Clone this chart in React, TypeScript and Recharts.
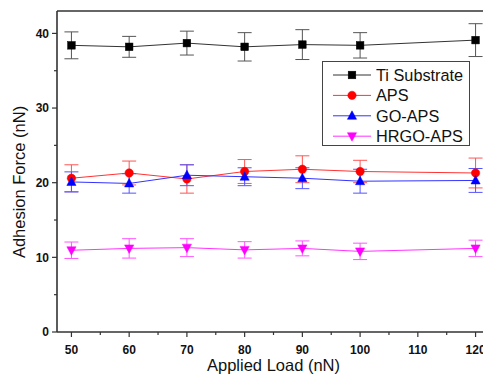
import React from 'react';
import { LineChart, Line, XAxis, YAxis, ErrorBar, ReferenceLine, Legend, Label } from 'recharts';

const loads = [50, 60, 70, 80, 90, 100, 120];
const tiValues = [38.4, 38.2, 38.7, 38.2, 38.5, 38.4, 39.1];
const tiErrors = [1.8, 1.4, 1.6, 1.9, 2.0, 1.7, 2.2];
const apsValues = [20.6, 21.3, 20.5, 21.5, 21.8, 21.5, 21.3];
const apsErrors = [1.8, 1.6, 1.9, 1.6, 1.8, 1.5, 2.0];
const goValues = [20.1, 19.9, 21.0, 20.8, 20.6, 20.2, 20.3];
const goErrors = [1.35, 1.3, 1.4, 1.2, 1.4, 1.6, 1.6];
const hrgoValues = [10.95, 11.2, 11.3, 11.0, 11.2, 10.8, 11.2];
const hrgoErrors = [1.1, 1.3, 1.2, 1.1, 1.0, 1.1, 1.1];

const xTicks = [50, 55, 60, 65, 70, 75, 80, 85, 90, 95, 100, 105, 110, 115, 120];
const yTicks = [0, 5, 10, 15, 20, 25, 30, 35, 40];
const xDomain = [47.5, 122.5];
const yDomain = [0, 43];

const data = loads.map((load, i) => ({
  load,
  ti: tiValues[i],
  tiErr: tiErrors[i],
  aps: apsValues[i],
  apsErr: apsErrors[i],
  go: goValues[i],
  goErr: goErrors[i],
  hrgo: hrgoValues[i],
  hrgoErr: hrgoErrors[i],
}));

const FONT = '"Liberation Sans", Arial, Helvetica, sans-serif';
const AXIS_COLOR = '#333';
const TICK_SIZE = 5;
const TICK_MARGIN = 3;
const X_TICK_MARGIN = 8;

type Shape = 'square' | 'circle' | 'up' | 'down';

function marker(shape: Shape, cx: number, cy: number, color: string, key?: any) {
  if (cx == null || cy == null || isNaN(cx) || isNaN(cy)) return <g key={key} />;
  if (shape === 'square') {
    return <rect key={key} x={cx - 3.8} y={cy - 3.8} width={7.6} height={7.6} fill={color} stroke={color} strokeWidth={0.5} />;
  }
  if (shape === 'circle') {
    return <circle key={key} cx={cx} cy={cy} r={4.2} fill={color} stroke={color} strokeWidth={0.5} />;
  }
  if (shape === 'up') {
    return <polygon key={key} points={`${cx},${cy - 5} ${cx + 4.6},${cy + 3.5} ${cx - 4.6},${cy + 3.5}`} fill={color} stroke={color} strokeWidth={0.5} />;
  }
  return <polygon key={key} points={`${cx},${cy + 5} ${cx + 4.6},${cy - 3.5} ${cx - 4.6},${cy - 3.5}`} fill={color} stroke={color} strokeWidth={0.5} />;
}

const seriesList: { key: string; err: string; name: string; color: string; line: string; errColor: string; shape: Shape }[] = [
  { key: 'ti', err: 'tiErr', name: 'Ti Substrate', color: '#000000', line: '#333333', errColor: '#555555', shape: 'square' },
  { key: 'aps', err: 'apsErr', name: 'APS', color: '#ff0000', line: '#ff3333', errColor: '#ff5555', shape: 'circle' },
  { key: 'go', err: 'goErr', name: 'GO-APS', color: '#0000ff', line: '#3333ff', errColor: '#5555ff', shape: 'up' },
  { key: 'hrgo', err: 'hrgoErr', name: 'HRGO-APS', color: '#ff00ff', line: '#ff33ff', errColor: '#ff55ff', shape: 'down' },
];

const YTick = (props: any) => {
  const { x, y, payload } = props;
  const v = payload.value;
  const major = v % 10 === 0;
  const axisX = x + TICK_SIZE + TICK_MARGIN;
  const len = major ? 5 : 3;
  return (
    <g>
      <line x1={axisX - len} x2={axisX} y1={y} y2={y} stroke={AXIS_COLOR} strokeWidth={1.2} />
      {major && (
        <text x={x} y={y} dy="0.36em" textAnchor="end" fontFamily={FONT} fontWeight="bold" fontSize={12} fill="#111">
          {v}
        </text>
      )}
    </g>
  );
};

const XTick = (props: any) => {
  const { x, y, payload } = props;
  const v = payload.value;
  const major = v % 10 === 0;
  const axisY = y - TICK_SIZE - X_TICK_MARGIN;
  const len = major ? 5 : 3;
  return (
    <g>
      <line x1={x} x2={x} y1={axisY} y2={axisY + len} stroke={AXIS_COLOR} strokeWidth={1.2} />
      {major && (
        <text x={x} y={y} dy="0.71em" textAnchor="middle" fontFamily={FONT} fontWeight="bold" fontSize={12} fill="#111">
          {v}
        </text>
      )}
    </g>
  );
};

const LegendBox = () => {
  const rowH = 20.4;
  return (
    <div style={{ width: 148, height: 85, border: '1px solid #444', boxSizing: 'border-box', background: '#fff' }}>
      <svg width={146} height={83} style={{ display: 'block' }}>
        {seriesList.map((s, i) => {
          const cy = 13 + i * rowH;
          return (
            <g key={s.key}>
              <line x1={10} x2={48} y1={cy} y2={cy} stroke={s.line} strokeWidth={1} />
              {marker(s.shape, 29, cy, s.color)}
              <text x={53} y={cy} dy="0.36em" fontFamily={FONT} fontSize={16.3} fill="#111">
                {s.name}
              </text>
            </g>
          );
        })}
      </svg>
    </div>
  );
};

export default function App() {
  return (
    <div style={{ position: 'fixed', left: 0, top: 0, width: 483, height: 376, overflow: 'hidden', background: '#fff' }}>
      <LineChart width={500} height={376} data={data} margin={{ top: 11, right: 10, left: 0, bottom: 0 }}>
        <XAxis
          dataKey="load"
          type="number"
          domain={xDomain}
          ticks={xTicks}
          interval={0}
          height={44}
          tickSize={TICK_SIZE}
          tickMargin={X_TICK_MARGIN}
          tickLine={false}
          tick={<XTick />}
          axisLine={{ stroke: AXIS_COLOR, strokeWidth: 1.6 }}
          allowDataOverflow
        >
          <Label
            content={(p: any) => {
              const vb = p.viewBox;
              return (
                <text x={vb.x + vb.width / 2} y={vb.y + 39} textAnchor="middle" fontFamily={FONT} fontSize={16.5} fill="#111">
                  Applied Load (nN)
                </text>
              );
            }}
          />
        </XAxis>
        <YAxis
          type="number"
          domain={yDomain}
          ticks={yTicks}
          interval={0}
          width={57}
          tickSize={TICK_SIZE}
          tickMargin={TICK_MARGIN}
          tickLine={false}
          tick={<YTick />}
          axisLine={{ stroke: AXIS_COLOR, strokeWidth: 1.6 }}
          allowDataOverflow
        >
          <Label
            content={(p: any) => {
              const vb = p.viewBox;
              const cx = vb.x + 25;
              const cy = vb.y + vb.height / 2 + 10.5;
              return (
                <text x={cx} y={cy} transform={`rotate(-90, ${cx}, ${cy})`} textAnchor="middle" fontFamily={FONT} fontSize={16.5} fill="#111">
                  Adhesion Force (nN)
                </text>
              );
            }}
          />
        </YAxis>
        <ReferenceLine y={43} stroke={AXIS_COLOR} strokeWidth={1.6} />
        <ReferenceLine x={122.5} stroke={AXIS_COLOR} strokeWidth={1.6} />
        {seriesList.map((s) => (
          <Line
            key={s.key}
            dataKey={s.key}
            name={s.name}
            stroke={s.line}
            strokeWidth={1}
            isAnimationActive={false}
            dot={(p: any) => marker(s.shape, p.cx, p.cy, s.color, `${s.key}-${p.index}`)}
            activeDot={false}
          >
            <ErrorBar dataKey={s.err} direction="y" width={7} stroke={s.errColor} strokeWidth={1} />
          </Line>
        ))}
        <Legend
          layout="vertical"
          align="center"
          verticalAlign="middle"
          content={() => <LegendBox />}
          wrapperStyle={{ left: 322, top: 61, width: 148, height: 85 }}
        />
      </LineChart>
    </div>
  );
}
